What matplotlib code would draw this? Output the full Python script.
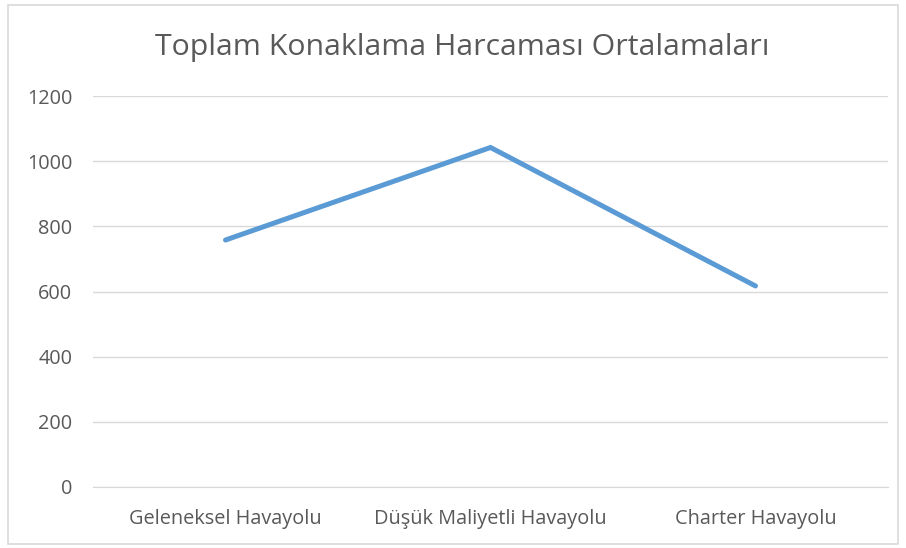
import matplotlib
matplotlib.use("Agg")
import matplotlib.pyplot as plt
from matplotlib.patches import Rectangle

categories = ["Geleneksel Havayolu", "Düşük Maliyetli Havayolu", "Charter Havayolu"]
values = [758, 1042, 617]
yticks = [0, 200, 400, 600, 800, 1000, 1200]
title = "Toplam Konaklama Harcaması Ortalamaları"

plt.rcParams['font.family'] = ['Open Sans', 'DejaVu Sans']

W, H = 906, 548
fig = plt.figure(figsize=(W / 100, H / 100), dpi=100)
fig.patch.set_facecolor("white")

# outer border
fig.add_artist(Rectangle((8 / W, 1 - 544 / H), (898 - 8) / W, (544 - 5) / H,
                         transform=fig.transFigure, fill=False,
                         edgecolor="#D9D9D9", linewidth=1.2))

left, right, top, bottom = 93, 888, 96, 487
ax = fig.add_axes([left / W, 1 - bottom / H, (right - left) / W, (bottom - top) / H])
x = list(range(len(categories)))
ax.plot(x, values, color="#5B9BD5", linewidth=3.6, solid_capstyle="round",
        solid_joinstyle="miter", zorder=3)
ax.set_xlim(-0.5, len(categories) - 0.5)
ax.set_ylim(0, 1200)
ax.set_yticks(yticks)
ax.set_yticklabels([str(v) for v in yticks])
ax.set_xticks(x)
ax.set_xticklabels(categories)
ax.grid(axis="y", color="#D9D9D9", linewidth=1.0)
ax.set_axisbelow(True)
for s in ax.spines.values():
    s.set_visible(False)
ax.spines["bottom"].set_visible(True)
ax.spines["bottom"].set_color("#D9D9D9")
ax.tick_params(axis="both", length=0, colors="#595959", labelsize=14.3)
ax.tick_params(axis="y", pad=15)
ax.tick_params(axis="x", pad=16)

fig.text(462 / W, 1 - 48 / H, title, ha="center", va="center",
         fontsize=21.8, color="#595959")

fig.savefig("out.png", dpi=100)
